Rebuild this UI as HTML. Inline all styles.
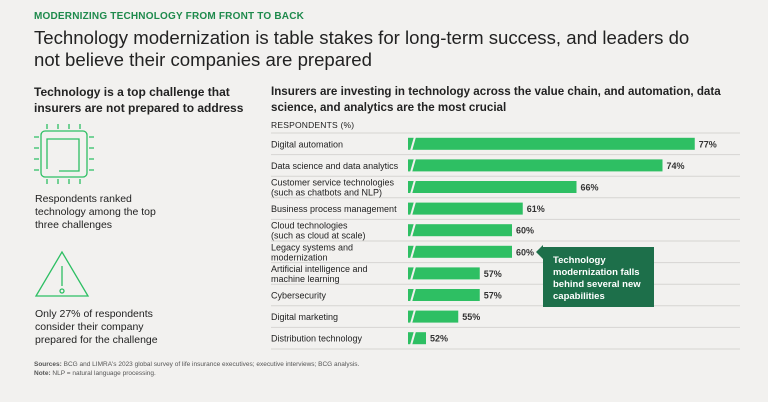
<!DOCTYPE html>
<html><head><meta charset="utf-8"><style>
body{margin:0;width:768px;height:402px;background:#f2f1ef;font-family:"Liberation Sans",sans-serif;color:#222;position:relative;overflow:hidden}
.a{position:absolute;margin:0}
</style></head><body>
<div class="a" style="left:34px;top:11px;font-size:10px;font-weight:bold;color:#1e8a4c;letter-spacing:0.2px">MODERNIZING TECHNOLOGY FROM FRONT TO BACK</div>
<div class="a" style="left:34px;top:27px;font-size:18.6px;line-height:22px;width:670px;color:#222">Technology modernization is table stakes for long-term success, and leaders do not believe their companies are prepared</div>
<div class="a" style="left:34px;top:84px;font-size:12px;font-weight:bold;line-height:16px;width:225px">Technology is a top challenge that insurers are not prepared to address</div>
<svg class="a" style="left:34px;top:124px" width="60" height="60" viewBox="0 0 60 60" fill="none" stroke="#2dbf63" stroke-width="1.3">
<rect x="7" y="7" width="46" height="46" rx="4"/><path d="M25 47H45V15H13V45"/>
<path d="M13 0v5M24 0v5M35 0v5M46 0v5M13 55v5M24 55v5M35 55v5M46 55v5M0 13h5M0 24h5M0 35h5M0 46h5M55 13h5M55 24h5M55 35h5M55 46h5"/></svg>
<div class="a" style="left:35px;top:193px;font-size:10.5px;line-height:13px;width:130px">Respondents ranked technology among the top three challenges</div>
<svg class="a" style="left:34px;top:250px" width="56" height="48" viewBox="0 0 56 48" fill="none" stroke="#2dbf63" stroke-width="1.3">
<path d="M28 2L2 46H54Z"/><path d="M28 16V36"/><circle cx="28" cy="41" r="2"/></svg>
<div class="a" style="left:35px;top:308px;font-size:10.5px;line-height:13px;width:140px">Only 27% of respondents consider their company prepared for the challenge</div>
<div class="a" style="left:271px;top:84px;font-size:11.6px;font-weight:bold;line-height:16px;width:455px">Insurers are investing in technology across the value chain, and automation, data science, and analytics are the most crucial</div>
<div class="a" style="left:271px;top:120px;font-size:8.5px;letter-spacing:0.2px">RESPONDENTS (%)</div>
<svg class="a" id="chart" style="left:0;top:0" width="768" height="402"></svg>
<div class="a" style="left:543px;top:247px;width:111px;height:60px;background:#1d6f4a;color:#fff;font-size:9.5px;font-weight:bold;line-height:12px;padding:8px 0 0 10px;box-sizing:border-box">Technology modernization falls behind several new capabilities</div>
<div class="a" style="left:536px;top:245px;width:0;height:0;border-top:7px solid transparent;border-bottom:7px solid transparent;border-right:7px solid #1d6f4a"></div>
<div class="a" style="left:34px;top:360px;font-size:6.5px;color:#555;line-height:9px"><b>Sources:</b> BCG and LIMRA's 2023 global survey of life insurance executives; executive interviews; BCG analysis.<br><b>Note:</b> NLP = natural language processing.</div>
<script>
const categories=[["Digital automation"],["Data science and data analytics"],["Customer service technologies","(such as chatbots and NLP)"],["Business process management"],["Cloud technologies","(such as cloud at scale)"],["Legacy systems and","modernization"],["Artificial intelligence and","machine learning"],["Cybersecurity"],["Digital marketing"],["Distribution technology"]];
const values=[77,74,66,61,60,60,57,57,55,52];
const valueLabels=["77%","74%","66%","61%","60%","60%","57%","57%","55%","52%"];
const svg=document.getElementById('chart');const NS='http://www.w3.org/2000/svg';
const x=v=>426+(v-52)*10.75;const y0=133,rh=21.6;const rowY=i=>y0+i*rh+rh/2;
function mk(t,a){const e=document.createElementNS(NS,t);for(const k in a)e.setAttribute(k,a[k]);svg.appendChild(e);return e;}
for(let i=0;i<=categories.length;i++){const l=mk('line',{x1:271,x2:740,y1:y0+i*rh,y2:y0+i*rh,stroke:'#d6d5d2','stroke-width':1});
}
categories.forEach((c,i)=>{const cy=rowY(i);
const t=mk('text',{x:271,y:c.length>1?cy-1.5:cy+3.5,'font-size':9,fill:'#222','font-family':'Liberation Sans, sans-serif'});

c.forEach((s,j)=>{const ts=document.createElementNS(NS,'tspan');ts.setAttribute('x',271);if(j)ts.setAttribute('dy',10);ts.textContent=s;t.appendChild(ts);});
const b=mk('rect',{x:408,y:cy-6,width:x(values[i])-408,height:12,fill:'#2ebf63'});

const br=mk('path',{d:`M${411} ${cy+7}L${415} ${cy-7}`,stroke:'#f2f1ef','stroke-width':2});

const v=mk('text',{x:x(values[i])+4,y:cy+3.5,'font-size':9,'font-weight':'bold',fill:'#333','font-family':'Liberation Sans, sans-serif'});
v.textContent=valueLabels[i];});
</script>
</body></html>
